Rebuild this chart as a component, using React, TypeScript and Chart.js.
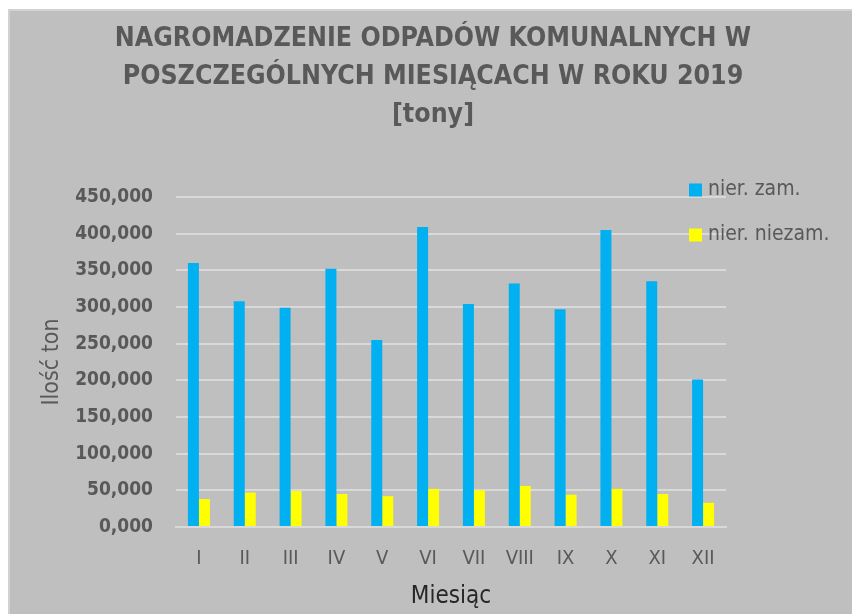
import React, { useEffect, useRef } from "react";
import { Chart, registerables } from "chart.js";

Chart.register(...registerables);

const months = ["I", "II", "III", "IV", "V", "VI", "VII", "VIII", "IX", "X", "XI", "XII"];
const zamValues = [360000, 308000, 299000, 352000, 255000, 409000, 304000, 332000, 297000, 405000, 335000, 201000];
const niezamValues = [38000, 47000, 49000, 45000, 42000, 52000, 50000, 56000, 44000, 52000, 45000, 33000];
const seriesNames = ["nier. zam.", "nier. niezam."];
const seriesColors = ["#00b0f0", "#ffff00"];
const titleLines = ["NAGROMADZENIE ODPADÓW KOMUNALNYCH W", "POSZCZEGÓLNYCH MIESIĄCACH W ROKU 2019", "[tony]"];

const FONT = "'DejaVu Sans Condensed', 'DejaVu Sans', sans-serif";
const GREY_TEXT = "#595959";

const backgroundPlugin = {
  id: "bgBox",
  beforeDraw(chart: any) {
    const { ctx, width, height } = chart;
    ctx.save();
    ctx.fillStyle = "#ffffff";
    ctx.fillRect(0, 0, width, height);
    ctx.fillStyle = "#bfbfbf";
    ctx.fillRect(8, 9, width - 8, height - 9);
    ctx.strokeStyle = "#d2d2d2";
    ctx.lineWidth = 2;
    ctx.beginPath();
    ctx.moveTo(9, height);
    ctx.lineTo(9, 10);
    ctx.lineTo(width, 10);
    ctx.stroke();
    ctx.restore();
  },
};

const titlePlugin = {
  id: "customTitle",
  afterDraw(chart: any) {
    const { ctx } = chart;
    ctx.save();
    ctx.font = `bold 26.5px ${FONT}`;
    ctx.fillStyle = GREY_TEXT;
    ctx.textAlign = "center";
    ctx.textBaseline = "middle";
    titleLines.forEach((line, i) => {
      ctx.fillText(line, 433, 39 + i * 38);
    });
    ctx.restore();
  },
};

const legendPlugin = {
  id: "customLegend",
  afterDatasetsDraw(chart: any) {
    const { ctx, chartArea } = chart;
    const rows = [chartArea.top - 7, chartArea.top + 38];
    ctx.save();
    ctx.font = `21px ${FONT}`;
    ctx.textBaseline = "middle";
    ctx.textAlign = "left";
    chart.data.datasets.forEach((ds: any, i: number) => {
      const y = rows[i];
      const x = chartArea.right - 37;
      ctx.fillStyle = ds.backgroundColor;
      ctx.fillRect(x, y - 6.5, 13, 13);
      ctx.fillStyle = GREY_TEXT;
      ctx.fillText(ds.label, x + 19, y);
    });
    ctx.restore();
  },
};

export default function App() {
  const canvasRef = useRef<HTMLCanvasElement | null>(null);

  useEffect(() => {
    if (!canvasRef.current) return;
    const chart = new Chart(canvasRef.current, {
      type: "bar",
      data: {
        labels: months,
        datasets: [
          { label: seriesNames[0], data: zamValues, backgroundColor: seriesColors[0] },
          { label: seriesNames[1], data: niezamValues, backgroundColor: seriesColors[1] },
        ],
      },
      options: {
        responsive: false,
        animation: false,
        layout: { padding: { left: 8, top: 197, right: 126, bottom: 0 } },
        datasets: {
          bar: { categoryPercentage: 0.48, barPercentage: 1.0 },
        },
        plugins: {
          legend: { display: false },
          tooltip: { enabled: false },
          title: { display: false },
        },
        scales: {
          x: {
            grid: { display: false, drawTicks: false },
            border: { display: true, color: "#d9d9d9", width: 2 },
            ticks: { color: GREY_TEXT, font: { family: FONT, size: 20 }, padding: 20, maxRotation: 0 },
            title: {
              display: true,
              text: "Miesiąc",
              color: "#262626",
              font: { family: FONT, size: 24, lineHeight: 1.2 },
              padding: { top: 0, bottom: 3 },
            },
            afterFit(scale: any) {
              scale.height = 87;
            },
          },
          y: {
            min: 0,
            max: 450000,
            grid: { color: "#d9d9d9", lineWidth: 2, drawTicks: false },
            border: { display: false },
            ticks: {
              stepSize: 50000,
              color: GREY_TEXT,
              padding: 23,
              font: { family: FONT, size: 19, weight: "bold" },
              callback: (v: any) => (Number(v) === 0 ? "0,000" : (Number(v) / 1000).toFixed(0) + ",000"),
            },
            title: {
              display: true,
              text: "Ilość ton",
              color: GREY_TEXT,
              font: { family: FONT, size: 23, lineHeight: 1.2 },
              padding: { top: 30, bottom: 0 },
            },
            afterFit(scale: any) {
              scale.width = 168;
            },
          },
        },
      },
      plugins: [backgroundPlugin, titlePlugin, legendPlugin],
    });
    return () => chart.destroy();
  }, []);

  return (
    <div style={{ position: "fixed", left: 0, top: 0, width: 852, height: 614 }}>
      <canvas ref={canvasRef} width={852} height={614} />
    </div>
  );
}
